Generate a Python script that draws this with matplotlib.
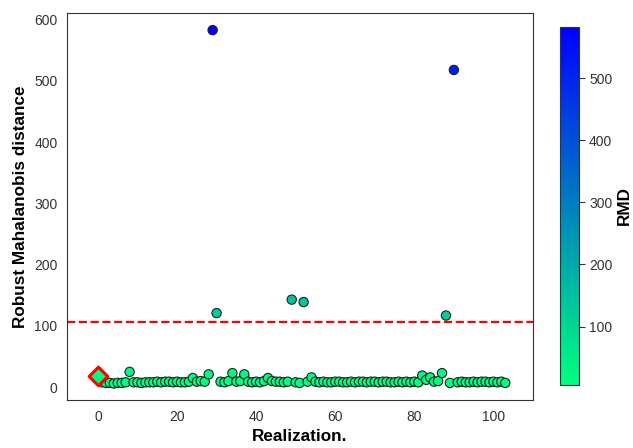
import numpy as np
import matplotlib
matplotlib.use("Agg")
import matplotlib.pyplot as plt
import seaborn as sns

# 数据
realization = list(range(104))
rmd = [18,
       8, 7, 7, 6, 7, 7, 8,
       25,
       8, 8, 7, 8, 8, 8, 9, 8, 9, 9, 8, 9, 8, 8, 9,
       15, 9, 10, 9, 21,
       583, 121,
       9, 8, 10, 23, 9, 10, 21, 9, 8, 9, 8, 10, 15, 10, 9, 9, 8, 9,
       143, 8, 7, 139, 9, 16,
       9, 8, 9, 8, 8, 9, 9, 8, 8, 9, 8, 9, 9, 8, 9, 9, 8, 9, 9, 8, 8, 9, 8, 9, 8, 9, 8,
       19, 12, 16, 9, 10, 23, 117, 7, 518,
       8, 9, 8, 8, 9, 8, 9, 9, 8, 9, 8, 9, 7]
threshold = 107
base_idx = 0

sns.set_style("white")
plt.rcParams['font.family'] = ['Liberation Sans', 'DejaVu Sans']
plt.rcParams['axes.edgecolor'] = '#333333'
plt.rcParams['text.color'] = '#222222'

fig = plt.figure(figsize=(6.33, 4.48), dpi=100)
ax = fig.add_axes([0.106, 0.107, 0.736, 0.864])
cax = fig.add_axes([0.885, 0.141, 0.029, 0.799])

x = np.array(realization)
y = np.array(rmd, dtype=float)
norm = plt.Normalize(vmin=y.min(), vmax=y.max())
cmap = plt.get_cmap('winter_r')

mask = x != base_idx
sc = ax.scatter(x[mask], y[mask], c=y[mask], cmap=cmap, norm=norm, s=45,
                edgecolors='#222222', linewidths=0.8, zorder=3)
ax.scatter(x[base_idx], y[base_idx], color=cmap(norm(y[base_idx])), marker='D',
           s=90, edgecolors='red', linewidths=2.2, zorder=4)
ax.axhline(threshold, color='red', linestyle='--', linewidth=1.6, zorder=2)

ax.set_xlim(-7.8, 110)
ax.set_ylim(-21, 611)
ax.set_xticks([0, 20, 40, 60, 80, 100])
ax.set_yticks([0, 100, 200, 300, 400, 500, 600])
ax.tick_params(labelsize=10, colors='#333333')
ax.set_xlabel('Realization.', fontsize=12.3, fontweight='bold', color='black')
ax.set_ylabel('Robust Mahalanobis distance', fontsize=12.3, fontweight='bold', color='black')

cb = fig.colorbar(sc, cax=cax)
cb.set_ticks([100, 200, 300, 400, 500])
cb.ax.tick_params(labelsize=10, colors='#333333', length=4, width=0.8)
cb.outline.set_edgecolor('#333333')
cb.set_label('RMD', fontsize=12.3, fontweight='bold', color='black', labelpad=3)

fig.savefig('out.png', dpi=100)
